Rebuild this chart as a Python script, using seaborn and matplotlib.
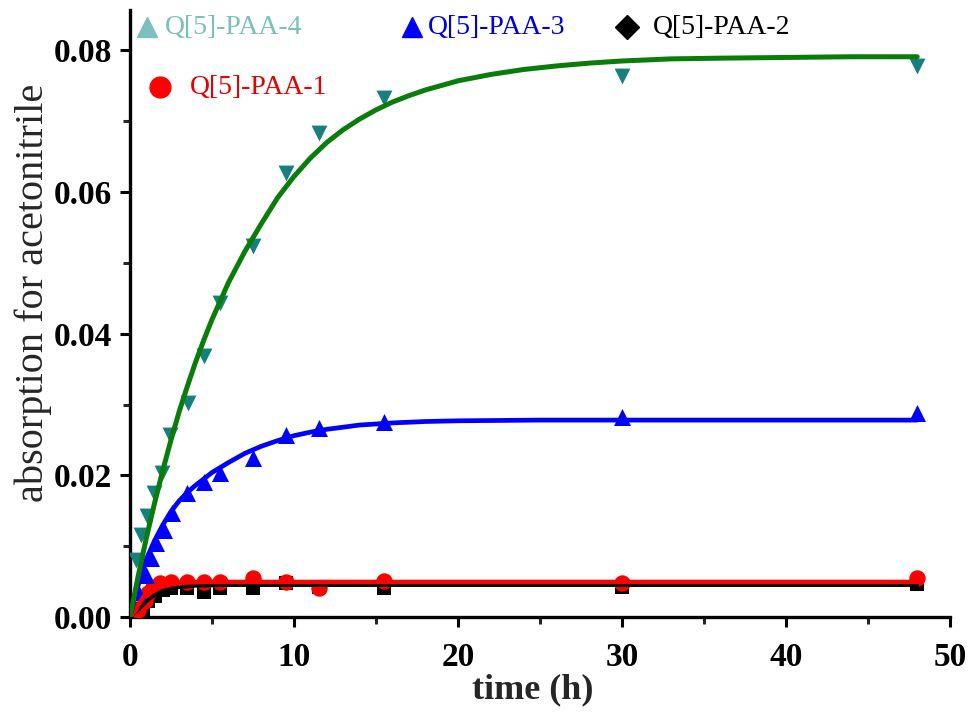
import numpy as np
import pandas as pd
import matplotlib
matplotlib.use("Agg")
import matplotlib.pyplot as plt
import seaborn as sns
from matplotlib.lines import Line2D
from matplotlib.ticker import MultipleLocator, FormatStrFormatter

# ---------------- data ----------------
# measured points
t4 = [0.35, 0.7, 1.05, 1.45, 1.95, 2.45, 3.55, 4.5, 5.5, 7.5, 9.5, 11.5, 15.5, 30, 48]
v4 = [0.0080, 0.0116, 0.0142, 0.0175, 0.0203, 0.0257, 0.0302, 0.0368, 0.0443,
      0.0524, 0.0627, 0.0683, 0.0733, 0.0764, 0.0778]

t3 = [0.5, 0.95, 1.25, 1.6, 2.05, 2.55, 3.5, 4.5, 5.5, 7.5, 9.5, 11.5, 15.5, 30, 48]
v3 = [0.0035, 0.0059, 0.0083, 0.0104, 0.0123, 0.0147, 0.0175, 0.0191, 0.0203,
      0.0224, 0.0257, 0.0267, 0.0276, 0.0283, 0.0288]

t2 = [0.5, 0.8, 1.1, 1.5, 2.0, 2.5, 3.5, 4.5, 5.5, 7.5, 9.5, 11.5, 15.5, 30, 48]
v2 = [0.0005, 0.0012, 0.0022, 0.0030, 0.0038, 0.0041, 0.0041, 0.0036, 0.0041,
      0.0041, 0.0048, 0.0043, 0.0041, 0.0043, 0.0047]

t1 = [0.5, 0.9, 1.1, 1.4, 1.85, 2.5, 3.5, 4.5, 5.5, 7.5, 9.5, 11.5, 15.5, 30, 48]
v1 = [0.0010, 0.0022, 0.0034, 0.0042, 0.0048, 0.0050, 0.0050, 0.0050, 0.0050,
      0.0055, 0.0050, 0.0041, 0.0051, 0.0048, 0.0055]

# fitted curves
ft4 = [0, 0.5, 1, 1.5, 2, 2.5, 3, 3.5, 4, 4.5, 5, 5.5, 6, 7, 8, 9, 10, 11, 12,
       13, 14, 15, 16, 17, 18, 20, 22, 24, 26, 28, 30, 33, 36, 40, 44, 48]
fv4 = [0, 0.0058, 0.0112, 0.0161, 0.0207, 0.0250, 0.0290, 0.0326, 0.0360,
       0.0391, 0.0420, 0.0446, 0.0472, 0.0516, 0.0555, 0.0592, 0.0622, 0.0648,
       0.0670, 0.0688, 0.0703, 0.0716, 0.0727, 0.0736, 0.0744, 0.0757, 0.0766,
       0.0773, 0.0778, 0.0782, 0.0785, 0.0788, 0.0789, 0.0790, 0.0791, 0.0791]

ft3 = [0, 0.5, 1, 1.5, 2, 2.5, 3, 3.5, 4, 5, 6, 7, 8, 9, 10, 11, 12, 13, 14,
       16, 18, 20, 25, 30, 40, 48]
fv3 = [0, 0.0045, 0.0082, 0.0108, 0.0130, 0.0149, 0.0164, 0.0176, 0.0186,
       0.0204, 0.0218, 0.0231, 0.0241, 0.0249, 0.0256, 0.0261, 0.0265, 0.0268,
       0.0271, 0.0274, 0.0276, 0.0277, 0.0278, 0.0278, 0.0278, 0.0278]

ft2 = [0, 0.5, 1, 1.5, 2, 2.5, 3, 4, 6, 48]
fv2 = [0, 0.0010, 0.0022, 0.0031, 0.0037, 0.0040, 0.0042, 0.0044, 0.0045, 0.0045]

ft1 = [0, 0.3, 0.6, 0.9, 1.2, 1.5, 2, 3, 5, 48]
fv1 = [0, 0.0008, 0.0021, 0.0031, 0.0039, 0.0044, 0.0047, 0.0049, 0.00495, 0.00495]

labels = ["Q[5]-PAA-4", "Q[5]-PAA-3", "Q[5]-PAA-2", "Q[5]-PAA-1"]

# ---------------- style ----------------
sns.set_style("ticks")
plt.rcParams["font.family"] = ["Liberation Serif", "DejaVu Serif"]

W, H = 971, 716
fig = plt.figure(figsize=(W / 100, H / 100), dpi=100)
ax = fig.add_axes([130 / W, 1 - 617 / H, (950 - 130) / W, (617 - 10) / H])

def scat(t, v, marker, color, s):
    sns.scatterplot(x=t, y=v, marker=marker, color=color, s=s, linewidth=0,
                    ax=ax, zorder=3, legend=False)

def curve(t, v, color, lw):
    df = pd.DataFrame({"t": t, "v": v})
    sns.lineplot(data=df, x="t", y="v", color=color, linewidth=lw, ax=ax,
                 estimator=None, sort=False, zorder=4, legend=False)

teal = "#16807f"
scat(t2, v2, "s", "black", 95)
curve(ft2, fv2, "black", 2.6)
scat(t1, v1, "o", "#ff0000", 140)
curve(ft1, fv1, "#ff0000", 3.2)
scat(t3, v3, "^", "#0000ff", 150)
curve(ft3, fv3, "#0000ff", 3.4)
scat(t4, v4, "v", teal, 130)
curve(ft4, fv4, "#0a7c0a", 3.6)

ax.set_xlim(0, 50)
ax.set_ylim(0, 0.0857)
ax.xaxis.set_major_locator(MultipleLocator(10))
ax.xaxis.set_minor_locator(MultipleLocator(5))
ax.yaxis.set_major_locator(MultipleLocator(0.02))
ax.yaxis.set_minor_locator(MultipleLocator(0.01))
ax.yaxis.set_major_formatter(FormatStrFormatter("%.2f"))

for side in ["top", "right"]:
    ax.spines[side].set_visible(False)
for side in ["left", "bottom"]:
    ax.spines[side].set_linewidth(2.4)
    ax.spines[side].set_color("black")

ax.tick_params(which="major", direction="out", length=7, width=2.2,
               labelsize=24, colors="black")
ax.tick_params(axis="x", which="major", pad=11)
ax.tick_params(axis="y", which="major", pad=6)
ax.tick_params(which="minor", direction="out", length=5, width=2.2)
for lab in ax.get_xticklabels() + ax.get_yticklabels():
    lab.set_fontweight("bold")

ax.set_xlabel("")
ax.set_ylabel("")
fig.text(533 / W, 1 - 690 / H, "time (h)", ha="center", va="center",
         fontsize=26, fontweight="bold")
fig.text(33 / W, 1 - 293 / H, "absorption for acetonitrile", ha="center",
         va="center", rotation=90, fontsize=29)

# ---------------- legend (manual, as in the reference) ----------------
leg = [
    (labels[0], "^", "#7dbfbd", "#7dbfbd", 147, 27, 165),
    (labels[1], "^", "#0000ff", "#0000dd", 412, 27, 428),
    (labels[2], "D", "black", "black", 627, 27, 653),
    (labels[3], "o", "#ff0000", "#e80000", 160, 87, 190),
]
for txt, mk, mc, tc, mx, my, tx in leg:
    ms = 15 if mk != "D" else 12
    fig.add_artist(Line2D([mx / W], [1 - my / H], marker=mk, markersize=ms,
                          color=mc, linestyle="none",
                          transform=fig.transFigure))
    fig.text(tx / W, 1 - my / H, txt, ha="left", va="center", fontsize=20,
             color=tc)

fig.savefig("out.png", dpi=100, facecolor="white")
